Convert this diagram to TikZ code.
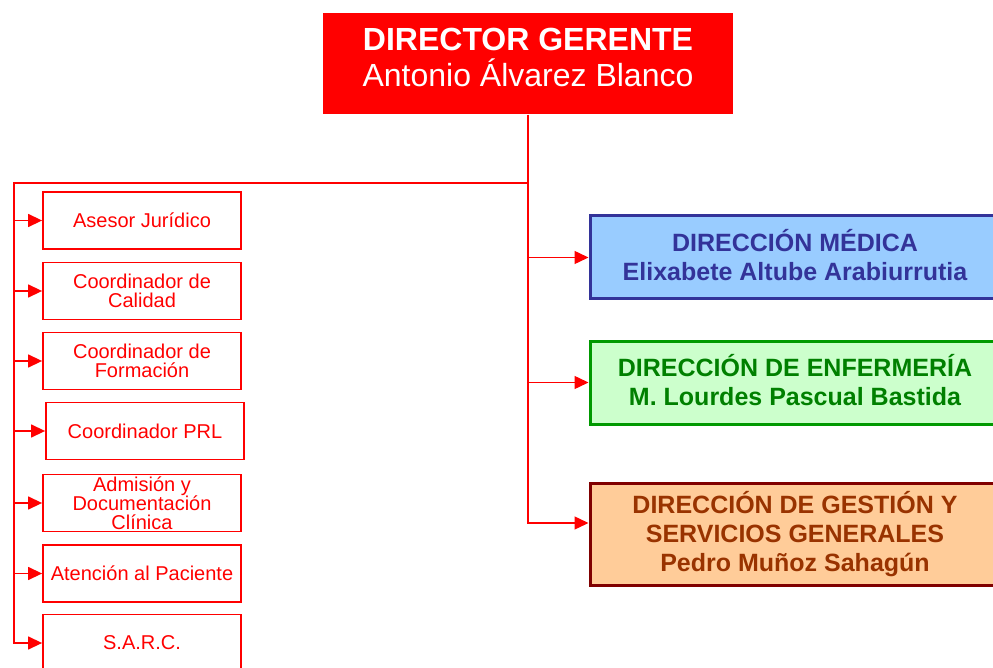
\documentclass[tikz,border=0pt]{standalone}
\usepackage{fontspec}
\setmainfont{Liberation Sans}
\usepackage{tikz}
\usetikzlibrary{arrows.meta}

\definecolor{medfill}{HTML}{99CCFF}
\definecolor{medline}{HTML}{333399}
\definecolor{enffill}{HTML}{CCFFCC}
\definecolor{enfline}{HTML}{009900}
\definecolor{enftext}{HTML}{008000}
\definecolor{gesfill}{HTML}{FFCC99}
\definecolor{gesline}{HTML}{800000}
\definecolor{gestext}{HTML}{993300}

\begin{document}
\begin{tikzpicture}[x=1pt,y=-1pt,line width=1.4pt,
  flecha/.style={red,-{Triangle[length=14pt,width=13pt]}},
  puesto/.style={draw=red,line width=1.8pt,minimum width=198pt,minimum height=57pt,inner sep=0pt,
    text=red,align=center,font=\fontsize{20}{18.5}\selectfont},
  direccion/.style={line width=3pt,minimum width=410pt,minimum height=83pt,inner sep=0pt,
    align=center,font=\bfseries\fontsize{25}{29}\selectfont}]

\useasboundingbox (0,0) rectangle (993,668);
\clip (0,0) rectangle (993,668);

\node[fill=red, minimum width=410pt, minimum height=101pt, text=white, align=center, text depth=12pt,
  font=\fontsize{32}{36}\selectfont] (dg) at (528,63.5) {\textbf{DIRECTOR GERENTE}\\Antonio Álvarez Blanco};

\node[puesto] (aj)   at (142,220.5) {Asesor Jurídico};
\node[puesto] (cal)  at (142,291)   {Coordinador de\\Calidad};
\node[puesto] (form) at (142,361)   {Coordinador de\\Formación};
\node[puesto] (prl)  at (145,431)   {Coordinador PRL};
\node[puesto] (adm)  at (142,503)   {Admisión y\\Documentación\\Clínica};
\node[puesto] (pac)  at (142,573.5) {Atención al Paciente};
\node[puesto] (sarc) at (142,643)   {S.A.R.C.};

\node[direccion, fill=medfill, draw=medline, text=medline, text depth=6pt] (med) at (795,257.5)
  {DIRECCIÓN MÉDICA\\Elixabete Altube Arabiurrutia};
\node[direccion, fill=enffill, draw=enfline, text=enftext, text depth=6pt] (enf) at (795,382.5)
  {DIRECCIÓN DE ENFERMERÍA\\M. Lourdes Pascual Bastida};
\node[direccion, fill=gesfill, draw=gesline, text=gestext, minimum height=102pt] (ges) at (795,534)
  {DIRECCIÓN DE GESTIÓN Y\\SERVICIOS GENERALES\\Pedro Muñoz Sahagún};

\coordinate (bus) at (14,183);

\draw[flecha] (dg.south) |- ([yshift=11pt]ges.west);
\draw[flecha] (dg.south |- bus) -- (bus) |- (sarc.west);

\path[flecha]
    (dg.south |- med.west) edge (med.west)
    (dg.south |- enf.west) edge (enf.west)
    (bus |- aj.west)   edge (aj.west)
    (bus |- cal.west)  edge (cal.west)
    (bus |- form.west) edge (form.west)
    (bus |- prl.west)  edge (prl.west)
    (bus |- adm.west)  edge (adm.west)
    (bus |- pac.west)  edge (pac.west);

\end{tikzpicture}
\end{document}
